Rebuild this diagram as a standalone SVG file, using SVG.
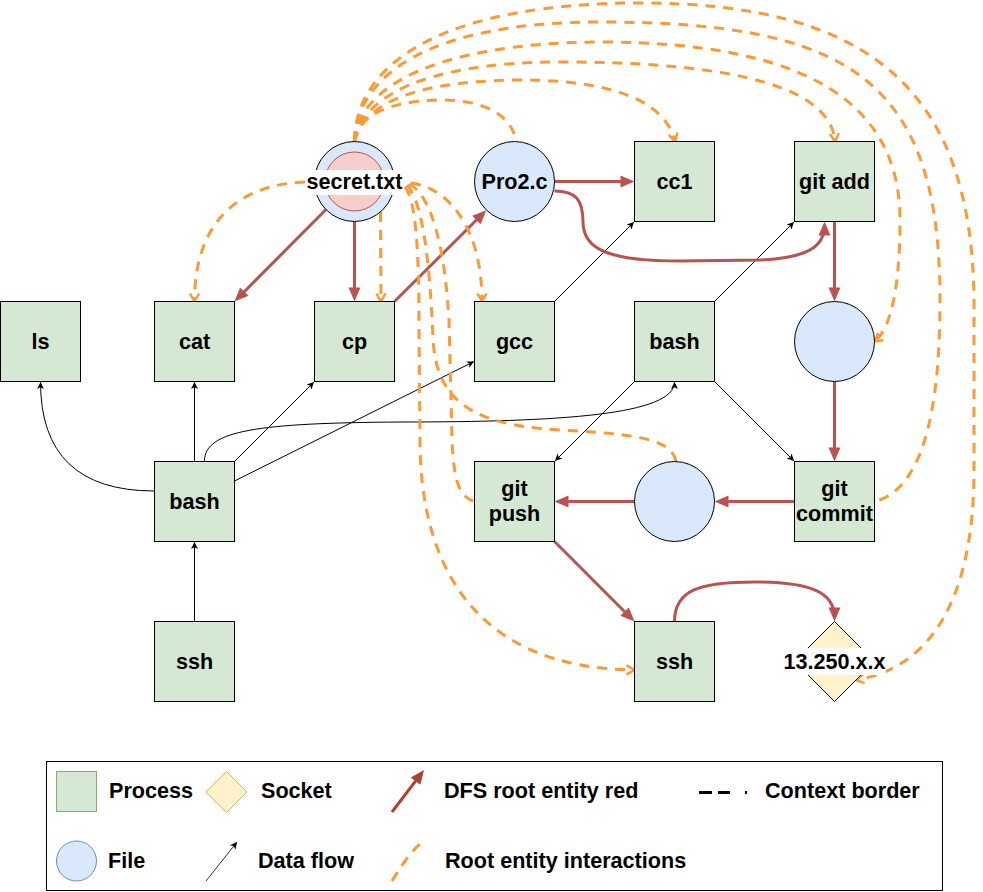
<svg xmlns="http://www.w3.org/2000/svg" width="983" height="892" viewBox="0 0 983 892">
<style>
.p{fill:#d5e8d4;stroke:#000;stroke-width:1}
.f{fill:#dae8fc;stroke:#000;stroke-width:1}
.t{font-family:"Liberation Sans",Arial,Helvetica,sans-serif;font-weight:bold;font-size:21.6px;fill:#000;text-anchor:middle}
.lt{font-family:"Liberation Sans",Arial,Helvetica,sans-serif;font-weight:bold;font-size:21.6px;fill:#000;text-anchor:start}
.d{fill:none;stroke:#000;stroke-width:1;marker-end:url(#blk)}
.r{fill:none;stroke:#b85450;stroke-width:3;marker-end:url(#red)}
.o{fill:none;stroke:#FF9933;stroke-width:3;stroke-dasharray:10 8}
.oa{marker-end:url(#org)}
</style>
<defs>
<marker id="red" markerUnits="userSpaceOnUse" markerWidth="16" markerHeight="14" refX="10" refY="6" orient="auto" overflow="visible"><path d="M0,0 L14,6 L0,12 z" fill="#b85450"/></marker>
<marker id="redd" markerUnits="userSpaceOnUse" markerWidth="16" markerHeight="14" refX="10" refY="6" orient="auto" overflow="visible"><path d="M0,0 L14,6 L0,12 z" fill="#ae4132"/></marker>
<marker id="blk" markerUnits="userSpaceOnUse" markerWidth="8" markerHeight="8" refX="7" refY="3.5" orient="auto" overflow="visible"><path d="M0,0 L7,3.5 L0,7 L1.8,3.5 z" fill="#000"/></marker>
<marker id="org" markerUnits="userSpaceOnUse" markerWidth="10" markerHeight="12" refX="8" refY="5" orient="auto" overflow="visible"><path d="M0,0.5 L8,5 L0,9.5" fill="none" stroke="#FF9933" stroke-width="2.5" stroke-dasharray="none"/></marker>
</defs>

<g id="connectors">
<path class="d" d="M154.5,491 Q40.5,491 40.5,382"/>
<path class="d" d="M194.5,461 L194.5,382"/>
<path class="d" d="M194.5,621 L194.5,542"/>
<path class="d" d="M234.5,461.5 L314,382"/>
<path class="d" d="M234.5,481 L474,361.5"/>
<path class="d" d="M204.5,461 C204.5,430 260,423 400,422 C560,422 674.5,415 674.5,382"/>
<path class="d" d="M554.5,301.5 L634,222"/>
<path class="d" d="M714.5,301.5 L794,222"/>
<path class="d" d="M634.5,381.5 L555,461"/>
<path class="d" d="M714.5,381.5 L794,461"/>
<path class="r" d="M326,209.5 L237.3,298.7"/>
<path class="r" d="M354.5,221.5 L354.5,297.5"/>
<path class="r" d="M394.5,301.5 L483.5,213"/>
<path class="r" d="M554.5,181.5 L630.5,181.5"/>
<path class="r" d="M554.5,191 C576,191 583,200 583,222 C583,250 610,261 680,261 L760,260 C805,258 824.5,248 824.5,225.5"/>
<path class="r" d="M834.5,221.5 L834.5,297.5"/>
<path class="r" d="M834.5,381.5 L834.5,457.5"/>
<path class="r" d="M794.5,501.5 L718.5,501.5"/>
<path class="r" d="M634.5,501.5 L558.5,501.5"/>
<path class="r" d="M554.5,541.5 L631.7,618.7"/>
<path class="r" d="M674.5,621.5 C674.5,590 700,582 754,582 C810,582 834.5,592 834.5,617.5"/>
<path class="o oa" d="M305,182 C230,185 194.5,230 194.5,301.5"/>
<path class="o oa" d="M380.5,212 L381,301.5"/>
<path class="o oa" d="M411,183 C450,188 482,230 482,301.5"/>
<path class="o" d="M409,184 C432,195 445,250 449,320 L452,440 C454,485 460,497 474.5,501.5"/>
<path class="o" d="M407,185 C422,200 430,260 433,340 C437,400 470,425 560,430 C640,434 672,440 676,461.5"/>
<path class="o oa" d="M405,187 C416,200 419,250 419,330 L420,440 C420,560 470,668 634.5,670"/>
<path class="o" d="M354.5,141.5 C357,115 390,101 440,100 C485,100 512,115 516,141.5"/>
<path class="o oa" d="M354.5,141.5 C362,110 400,81 520,80 C610,80 665,100 675,141.5"/>
<path class="o oa" d="M354.5,141.5 C360,100 420,62 560,62 C700,62 830,78 835,141.5"/>
<path class="o oa" d="M354.5,141.5 C357,90 430,43 600,42 C810,42 900,105 900,220 C900,290 890,330 874.5,341.5"/>
<path class="o" d="M354.5,141.5 C356,75 430,22 600,22 C850,22 940,80 940,300 C940,420 920,490 874.5,501.5"/>
<path class="o oa" d="M354.5,141.5 C355,60 450,3 640,3 C870,3 972,90 974,300 L974,470 C974,600 930,668 856,680"/>
</g>

<g id="ls"><rect class="p" x="0.5" y="301.5" width="80" height="80"/><text class="t" x="40.5" y="348.5">ls</text></g>
<g id="cat"><rect class="p" x="154.5" y="301.5" width="80" height="80"/><text class="t" x="194.5" y="348.5">cat</text></g>
<g id="cp"><rect class="p" x="314.5" y="301.5" width="80" height="80"/><text class="t" x="354.5" y="348.5">cp</text></g>
<g id="gcc"><rect class="p" x="474.5" y="301.5" width="80" height="80"/><text class="t" x="514.5" y="348.5">gcc</text></g>
<g id="bash2"><rect class="p" x="634.5" y="301.5" width="80" height="80"/><text class="t" x="674.5" y="348.5">bash</text></g>
<g id="cc1"><rect class="p" x="634.5" y="141.5" width="80" height="80"/><text class="t" x="674.5" y="188.5">cc1</text></g>
<g id="gitadd"><rect class="p" x="794.5" y="141.5" width="80" height="80"/><text class="t" x="834.5" y="188.5">git add</text></g>
<g id="file1"><circle class="f" cx="834.5" cy="341.5" r="40"/></g>
<g id="gitcommit"><rect class="p" x="794.5" y="461.5" width="80" height="80"/><text class="t" x="834.5" y="496">git</text><text class="t" x="834.5" y="521">commit</text></g>
<g id="file2"><circle class="f" cx="674.5" cy="501.5" r="40"/></g>
<g id="gitpush"><rect class="p" x="474.5" y="461.5" width="80" height="80"/><text class="t" x="514.5" y="496">git</text><text class="t" x="514.5" y="521">push</text></g>
<g id="ssh2"><rect class="p" x="634.5" y="621.5" width="80" height="80"/><text class="t" x="674.5" y="668.5">ssh</text></g>
<g id="socket"><polygon points="834.5,621.5 874.5,661.5 834.5,701.5 794.5,661.5" fill="#fff2cc" stroke="#000" stroke-width="1"/><rect x="783" y="648" width="103" height="27" fill="#fff"/><text class="t" x="834.5" y="668.5">13.250.x.x</text></g>
<g id="bash1"><rect class="p" x="154.5" y="461.5" width="80" height="80"/><text class="t" x="194.5" y="508.5">bash</text></g>
<g id="ssh1"><rect class="p" x="154.5" y="621.5" width="80" height="80"/><text class="t" x="194.5" y="668.5">ssh</text></g>
<g id="secret"><circle class="f" cx="354.5" cy="181.5" r="40"/><circle cx="354.5" cy="181.5" r="29.5" fill="#f8cecc" stroke="#b85450" stroke-width="1"/><rect x="305" y="170" width="99" height="25" fill="#fff"/><text class="t" x="354.5" y="188.5">secret.txt</text></g>
<g id="pro2c"><circle class="f" cx="514.5" cy="181.5" r="40"/><text class="t" x="514.5" y="188.5">Pro2.c</text></g>

<g id="legend">
<rect x="46.5" y="761.5" width="896" height="129" fill="#fff" stroke="#000" stroke-width="1"/>
<rect x="56.5" y="771.5" width="40" height="40" fill="#d5e8d4" stroke="#82b366"/>
<text class="lt" x="109" y="798">Process</text>
<polygon points="226.5,771.5 247,792 226.5,812.5 206,792" fill="#fff2cc" stroke="#d6b656"/>
<text class="lt" x="261" y="798">Socket</text>
<path d="M392,812 L421.6,773.2" fill="none" stroke="#ae4132" stroke-width="3" marker-end="url(#redd)"/>
<text class="lt" x="444" y="798">DFS root entity red</text>
<path d="M699,792.5 L750,792.5" fill="none" stroke="#000" stroke-width="3" stroke-dasharray="13 6 12 15 2 30"/>
<text class="lt" x="765" y="798">Context border</text>
<circle cx="76.5" cy="861" r="20" fill="#dae8fc" stroke="#6c8ebf"/>
<text class="lt" x="108" y="868">File</text>
<path d="M206,881 L237,842" fill="none" stroke="#333" stroke-width="1" marker-end="url(#blk)"/>
<text class="lt" x="258" y="868">Data flow</text>
<path class="o" d="M392,881 Q412,848 424,841"/>
<text class="lt" x="445" y="868">Root entity interactions</text>
</g>
</svg>
